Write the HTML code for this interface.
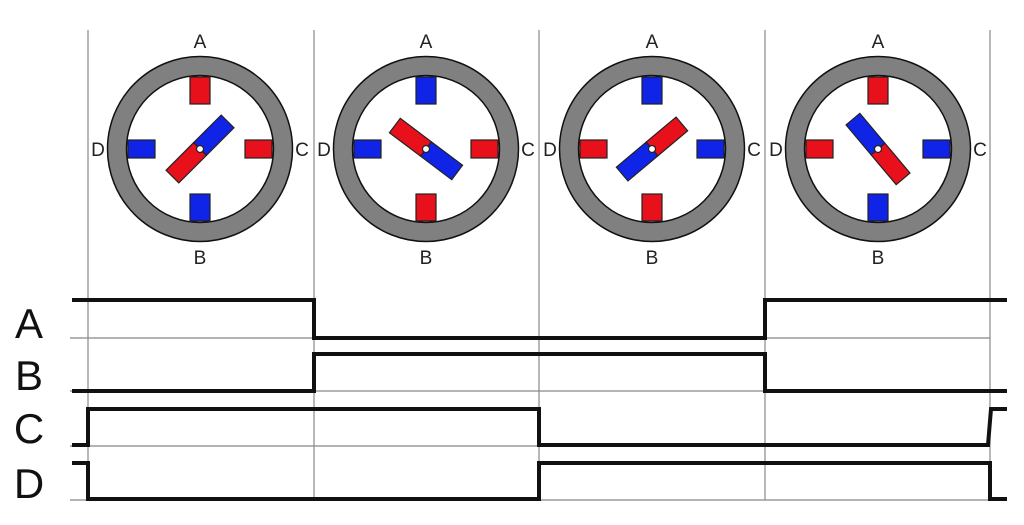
<!DOCTYPE html>
<html><head><meta charset="utf-8"><style>body{margin:0;background:#fff}svg{display:block}</style></head><body>
<svg width="1024" height="525" xmlns="http://www.w3.org/2000/svg" font-family="Liberation Sans, sans-serif">
<g stroke="#888" stroke-width="1.2">
<line x1="88" y1="30" x2="88" y2="500"/><line x1="314" y1="30" x2="314" y2="500"/><line x1="539" y1="30" x2="539" y2="500"/><line x1="765" y1="30" x2="765" y2="500"/><line x1="990" y1="30" x2="990" y2="500"/>
<line x1="70" y1="338" x2="990" y2="338"/><line x1="70" y1="391" x2="990" y2="391"/><line x1="70" y1="446" x2="990" y2="446"/><line x1="70" y1="500" x2="990" y2="500"/>
</g>
<g fill="none" stroke="#111" stroke-width="4">
<polyline points="72,300 314,300 314,338 765,338 765,300 1007,300"/>
<polyline points="72,391 314,391 314,354 765,354 765,391 1007,391"/>
<polyline points="72,445 88,445 88,409 539,409 539,445 988,445 991,409 1007,409"/>
<polyline points="72,463 88,463 88,499 539,499 539,463 990,463 990,499 1007,499"/>
</g>
<g font-size="42" fill="#111" text-anchor="middle">
<text x="29" y="338">A</text><text x="29" y="390">B</text><text x="29" y="443">C</text><text x="29" y="498">D</text>
</g>
<defs>
<g id="ring">
<circle r="83" fill="none" stroke="#808080" stroke-width="19"/>
<circle r="92.5" fill="none" stroke="#111" stroke-width="1.5"/>
<circle r="73.5" fill="none" stroke="#111" stroke-width="1.5"/>
</g>
</defs>
<g font-size="19" fill="#222" text-anchor="middle">
<g transform="translate(200,149)">
<use href="#ring"/>
<g stroke="#222" stroke-width="1.2">
<rect x="-10" y="-72" width="20" height="27" fill="#e8101a"/><rect x="-10" y="45" width="20" height="27" fill="#1024e8"/>
<rect x="-72" y="-9" width="27" height="18" fill="#1024e8"/><rect x="45" y="-9" width="27" height="18" fill="#e8101a"/>
<g transform="rotate(-45)"><rect x="0" y="-9" width="39" height="18" fill="#1024e8"/><rect x="-39" y="-9" width="39" height="18" fill="#e8101a"/></g>
<circle r="3.5" fill="#fff"/></g>
<text x="0" y="-101">A</text><text x="0" y="115">B</text><text x="-102" y="7">D</text><text x="102" y="7">C</text>
</g>
<g transform="translate(426,149)">
<use href="#ring"/>
<g stroke="#222" stroke-width="1.2">
<rect x="-10" y="-72" width="20" height="27" fill="#1024e8"/><rect x="-10" y="45" width="20" height="27" fill="#e8101a"/>
<rect x="-72" y="-9" width="27" height="18" fill="#1024e8"/><rect x="45" y="-9" width="27" height="18" fill="#e8101a"/>
<g transform="rotate(37)"><rect x="0" y="-9" width="39" height="18" fill="#1024e8"/><rect x="-39" y="-9" width="39" height="18" fill="#e8101a"/></g>
<circle r="3.5" fill="#fff"/></g>
<text x="0" y="-101">A</text><text x="0" y="115">B</text><text x="-102" y="7">D</text><text x="102" y="7">C</text>
</g>
<g transform="translate(652,149)">
<use href="#ring"/>
<g stroke="#222" stroke-width="1.2">
<rect x="-10" y="-72" width="20" height="27" fill="#1024e8"/><rect x="-10" y="45" width="20" height="27" fill="#e8101a"/>
<rect x="-72" y="-9" width="27" height="18" fill="#e8101a"/><rect x="45" y="-9" width="27" height="18" fill="#1024e8"/>
<g transform="rotate(-40)"><rect x="0" y="-9" width="39" height="18" fill="#e8101a"/><rect x="-39" y="-9" width="39" height="18" fill="#1024e8"/></g>
<circle r="3.5" fill="#fff"/></g>
<text x="0" y="-101">A</text><text x="0" y="115">B</text><text x="-102" y="7">D</text><text x="102" y="7">C</text>
</g>
<g transform="translate(878,149)">
<use href="#ring"/>
<g stroke="#222" stroke-width="1.2">
<rect x="-10" y="-72" width="20" height="27" fill="#e8101a"/><rect x="-10" y="45" width="20" height="27" fill="#1024e8"/>
<rect x="-72" y="-9" width="27" height="18" fill="#e8101a"/><rect x="45" y="-9" width="27" height="18" fill="#1024e8"/>
<g transform="rotate(50)"><rect x="0" y="-9" width="39" height="18" fill="#e8101a"/><rect x="-39" y="-9" width="39" height="18" fill="#1024e8"/></g>
<circle r="3.5" fill="#fff"/></g>
<text x="0" y="-101">A</text><text x="0" y="115">B</text><text x="-102" y="7">D</text><text x="102" y="7">C</text>
</g>
</g>
</svg>
</body></html>
